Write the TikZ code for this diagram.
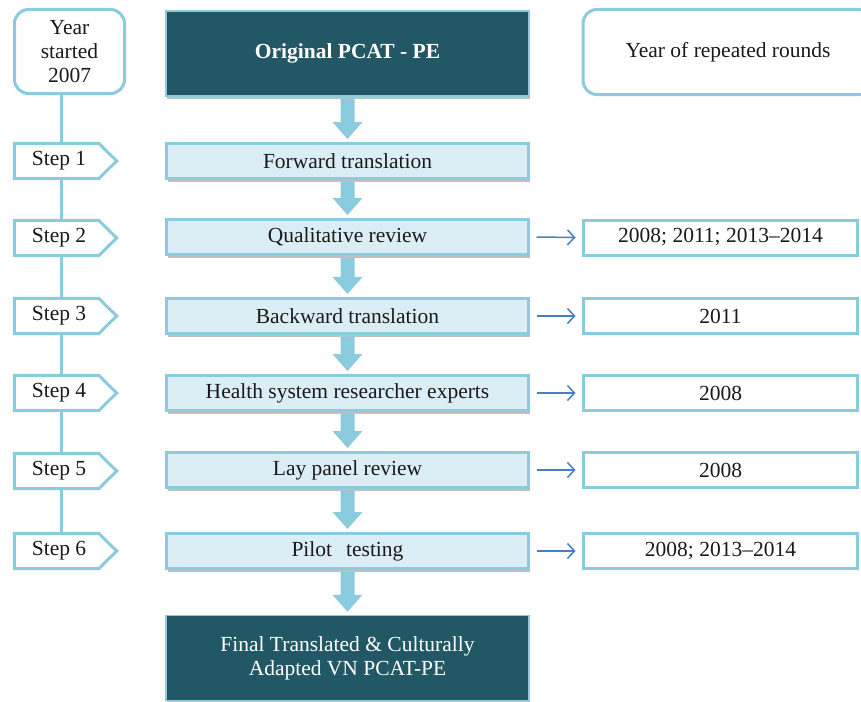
\documentclass[tikz,border=0pt]{standalone}
\usepackage{fontspec}
\setmainfont{Liberation Serif}
\usetikzlibrary{shadows,arrows.meta,calc}
\definecolor{lblue}{HTML}{8ACBDD}
\definecolor{lfill}{HTML}{DCEEF5}
\definecolor{dteal}{HTML}{225866}
\definecolor{tblue}{HTML}{4A7EC4}
\definecolor{txt}{HTML}{1A1A1A}
\newcommand{\blkarrow}[2]{%
  \path ([yshift=3pt]#2.north) coordinate (tip);
  \fill[lblue] ([xshift=-7pt,yshift=-1.5pt]#1.south) -- ([xshift=-7pt,yshift=17pt]tip)
    -- ([xshift=-15pt,yshift=17pt]tip) -- (tip) -- ([xshift=15pt,yshift=17pt]tip)
    -- ([xshift=7pt,yshift=17pt]tip) -- ([xshift=7pt,yshift=-1.5pt]#1.south) -- cycle;}
\begin{document}
\begin{tikzpicture}[x=1pt,y=-1pt,
  every node/.style={font=\fontsize{21.5}{24}\selectfont, text=txt, inner sep=0pt},
  shad/.style={drop shadow={shadow xshift=1pt, shadow yshift=-3pt, fill=black!50, opacity=.5}},
  proc/.style={draw=lblue, line width=3pt, fill=lfill, minimum width=362, minimum height=35, shad},
  dark/.style={draw=lblue, line width=1.5pt, fill=dteal, minimum width=363, minimum height=85, text=white, align=center, shad},
  yearbox/.style={draw=lblue, line width=3pt, fill=white, rounded corners=14pt, align=center},
  rbox/.style={draw=lblue, line width=3pt, fill=white, minimum width=274, minimum height=35},
  stepbox/.style={minimum width=84, minimum height=35},
  stepline/.style={draw=lblue, line width=3pt, fill=white, line join=miter},
  vline/.style={draw=lblue, line width=3pt},
  tarrow/.style={draw=tblue, line width=1.5pt, -{Straight Barb[length=7pt,width=15pt]}}
]
\useasboundingbox (0,0) rectangle (861,701);

% left column
\node[yearbox, minimum width=110, minimum height=84] (yr) at (69.5,51.5) {Year\\started\\2007};
\foreach \i/\y in {1/161,2/238,3/316,4/393,5/471,6/551}{
  \node[stepbox] (s\i) at (56.5,\y) {};
}
\draw[vline] ([xshift=-8.5pt]yr.south) -- ([xshift=4.5pt]s1.north);
\foreach \a/\b in {1/2,2/3,3/4,4/5,5/6}{
  \draw[vline] ([xshift=4.5pt]s\a.south) -- ([xshift=4.5pt]s\b.north);
}
\foreach \i in {1,...,6}{
  \draw[stepline] (s\i.north west) -- (s\i.north east) -- ([xshift=18pt]s\i.east) -- (s\i.south east) -- (s\i.south west) -- cycle;
  \node at ([xshift=2.5pt]s\i.center) {Step \i};
}

% middle column
\node[dark, font=\fontsize{21.5}{24}\selectfont\bfseries] (orig) at (347.5,53.5) {Original PCAT - PE};
\node[proc] (p1) at (347.5,161) {Forward translation};
\node[proc] (p2) at (347.5,237) {Qualitative review};
\node[proc] (p3) at (347.5,316) {Backward translation};
\node[proc] (p4) at (347.5,393) {Health system researcher experts};
\node[proc] (p5) at (347.5,470) {Lay panel review};
\node[proc] (p6) at (347.5,551) {Pilot\hspace{0.4em} testing};
\node[dark] (fin) at (347.5,658) {Final Translated \& Culturally\\Adapted VN PCAT-PE};

\blkarrow{orig}{p1}
\blkarrow{p1}{p2}
\blkarrow{p2}{p3}
\blkarrow{p3}{p4}
\blkarrow{p4}{p5}
\blkarrow{p5}{p6}
\blkarrow{p6}{fin}

% right column
\node[yearbox, minimum width=290, minimum height=85] (rep) at (728,52) {Year of repeated rounds};
\node[rbox] (r2) at (720.5,237.5) {2008; 2011; 2013–2014};
\node[rbox] (r3) at (720.5,316) {2011};
\node[rbox] (r4) at (720.5,393) {2008};
\node[rbox] (r5) at (720.5,470) {2008};
\node[rbox] (r6) at (720.5,551) {2008; 2013–2014};

\foreach \i in {2,...,6}{
  \draw[tarrow] ([xshift=6.5pt]p\i.east) -- ([xshift=-6.5pt]r\i.west);
}
\end{tikzpicture}
\end{document}
